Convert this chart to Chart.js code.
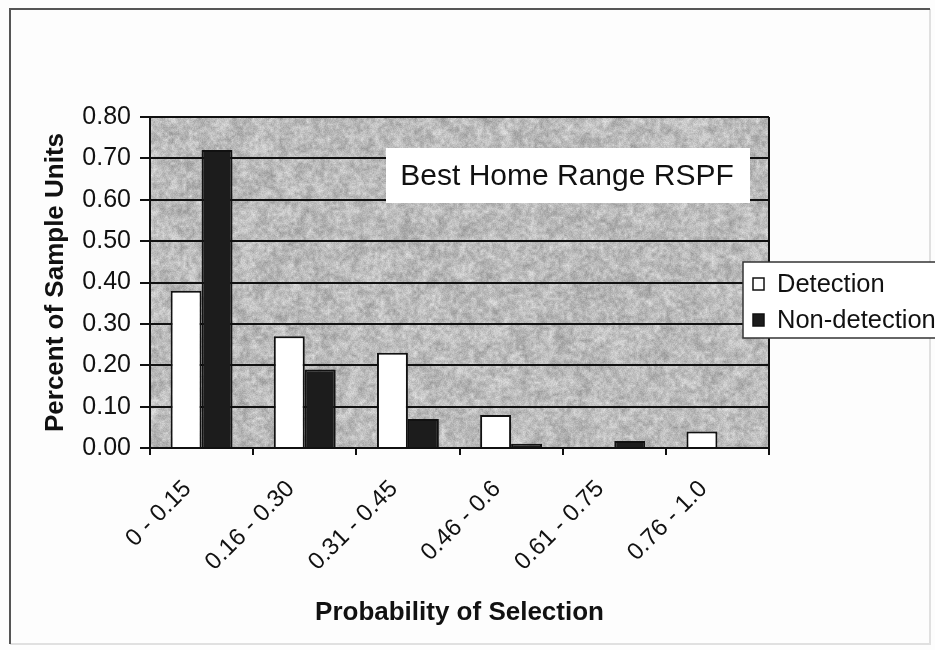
<!DOCTYPE html>
<html>
<head>
<meta charset="utf-8">
<title>Best Home Range RSPF</title>
<script src="https://cdn.jsdelivr.net/npm/chart.js@4.4.1/dist/chart.umd.min.js"></script>
<style>
  html, body { margin: 0; padding: 0; background: #ffffff; }
  #wrap { width: 935px; height: 650px; position: relative; }
</style>
</head>
<body>
<div id="wrap"><canvas id="c" width="935" height="650"></canvas></div>
<script>
// Probability-of-selection bins and the share of sample units in each
const categories = ['0 - 0.15', '0.16 - 0.30', '0.31 - 0.45', '0.46 - 0.6', '0.61 - 0.75', '0.76 - 1.0'];
const detection = [0.38, 0.27, 0.23, 0.08, 0, 0.04];
const nonDetection = [0.72, 0.19, 0.07, 0.01, 0.017, 0];
const seriesNames = ['Detection', 'Non-detection'];
const chartTitle = 'Best Home Range RSPF';
const xTitle = 'Probability of Selection';
const yTitle = 'Percent of Sample Units';
const yMin = 0, yMax = 0.8, yStep = 0.1;

const FONT = 'Arial, "Liberation Sans", Helvetica, sans-serif';
const INK = '#111111';

// Deterministic hash for the mottled plot-area fill
function hash(x, y) {
  const s = Math.sin(x * 127.1 + y * 311.7) * 43758.5453;
  return s - Math.floor(s);
}

// Grey layer of hashed values at a given cell size, smoothed when enlarged
function noiseLayer(w, h, cell, lo, span, seed) {
  const cw = Math.ceil(w / cell) + 1, ch = Math.ceil(h / cell) + 1;
  const small = document.createElement('canvas');
  small.width = cw; small.height = ch;
  const sg = small.getContext('2d');
  const img = sg.createImageData(cw, ch);
  for (let y = 0; y < ch; y++) {
    for (let x = 0; x < cw; x++) {
      const v = lo + hash(x + seed, y - seed) * span;
      const i = (y * cw + x) * 4;
      img.data[i] = img.data[i + 1] = img.data[i + 2] = v;
      img.data[i + 3] = 255;
    }
  }
  sg.putImageData(img, 0, 0);
  return { canvas: small, cw, ch };
}

let texture = null;
function buildTexture(w, h) {
  const c = document.createElement('canvas');
  c.width = w; c.height = h;
  const g = c.getContext('2d');
  g.imageSmoothingEnabled = true;
  const coarse = noiseLayer(w, h, 9, 150, 60, 3.1);
  g.drawImage(coarse.canvas, 0, 0, coarse.cw * 9, coarse.ch * 9);
  const mid = noiseLayer(w, h, 3, 145, 75, 7.7);
  g.globalAlpha = 0.55;
  g.drawImage(mid.canvas, 0, 0, mid.cw * 3, mid.ch * 3);
  g.globalAlpha = 1;
  const img = g.getImageData(0, 0, w, h);
  for (let y = 0; y < h; y++) {
    for (let x = 0; x < w; x++) {
      const i = (y * w + x) * 4;
      const d = (hash(x + 0.37, y + 0.71) - 0.5) * 22 + 6;
      const v = Math.max(0, Math.min(255, img.data[i] + d));
      img.data[i] = img.data[i + 1] = img.data[i + 2] = v;
    }
  }
  g.putImageData(img, 0, 0);
  return c;
}

const decor = {
  id: 'decor',
  beforeDraw(chart) {
    const { ctx, chartArea: a } = chart;
    ctx.save();
    ctx.fillStyle = '#fdfdfd';
    ctx.fillRect(0, 0, chart.width, chart.height);

    // outer frame
    ctx.lineWidth = 2;
    ctx.strokeStyle = '#e0e0e0';
    ctx.beginPath();
    ctx.moveTo(930, 9); ctx.lineTo(930, 644); ctx.lineTo(10, 644);
    ctx.stroke();
    ctx.strokeStyle = '#555555';
    ctx.beginPath();
    ctx.moveTo(10, 644); ctx.lineTo(10, 9); ctx.lineTo(930, 9);
    ctx.stroke();

    // plot-area fill
    const w = Math.round(a.right - a.left), h = Math.round(a.bottom - a.top);
    if (!texture) texture = buildTexture(w, h);
    ctx.drawImage(texture, a.left, a.top, w, h);
    ctx.restore();
  },
  afterDatasetsDraw(chart) {
    const { ctx, chartArea: a } = chart;
    ctx.save();
    // right edge of the plot area
    ctx.strokeStyle = INK;
    ctx.lineWidth = 2;
    ctx.beginPath();
    ctx.moveTo(a.right, a.top); ctx.lineTo(a.right, a.bottom);
    ctx.stroke();

    // chart title box inside the plot
    ctx.fillStyle = '#ffffff';
    ctx.fillRect(386, 148, 364, 55);
    ctx.fillStyle = INK;
    ctx.font = '30px ' + FONT;
    ctx.textAlign = 'center';
    ctx.textBaseline = 'middle';
    ctx.fillText(chartTitle, 567, 177);
    ctx.restore();
  },
  afterDraw(chart) {
    const { ctx } = chart;
    ctx.save();
    // legend box
    ctx.fillStyle = '#ffffff';
    ctx.fillRect(743, 262, 200, 76);
    ctx.strokeStyle = '#333333';
    ctx.lineWidth = 1.5;
    ctx.strokeRect(743, 262, 200, 76);

    const rows = [284, 320];
    chart.data.datasets.forEach((ds, i) => {
      const y = rows[i];
      ctx.fillStyle = ds.backgroundColor;
      ctx.fillRect(753, y - 6, 11, 12);
      ctx.strokeStyle = INK;
      ctx.lineWidth = 1.5;
      ctx.strokeRect(753, y - 6, 11, 12);
      ctx.fillStyle = INK;
      ctx.font = '25.5px ' + FONT;
      ctx.textAlign = 'left';
      ctx.textBaseline = 'middle';
      ctx.fillText(ds.label, 777, y + 1);
    });
    ctx.restore();
  }
};

new Chart(document.getElementById('c'), {
  type: 'bar',
  data: {
    labels: categories,
    datasets: [
      {
        label: seriesNames[0],
        data: detection,
        backgroundColor: '#ffffff',
        borderColor: INK,
        borderWidth: 2,
        borderSkipped: 'bottom'
      },
      {
        label: seriesNames[1],
        data: nonDetection,
        backgroundColor: '#1c1c1c',
        borderColor: INK,
        borderWidth: 2,
        borderSkipped: 'bottom'
      }
    ]
  },
  options: {
    responsive: false,
    animation: false,
    devicePixelRatio: 1,
    layout: { padding: { top: 117, right: 166, left: 0, bottom: 0 } },
    datasets: { bar: { categoryPercentage: 0.6, barPercentage: 1.0 } },
    plugins: {
      legend: { display: false },
      tooltip: { enabled: false },
      title: { display: false }
    },
    scales: {
      x: {
        grid: { display: true, drawOnChartArea: false, drawTicks: true, tickLength: 7, color: INK, lineWidth: 2, offset: true },
        border: { display: true, color: INK, width: 2 },
        ticks: {
          font: { family: FONT, size: 24 },
          color: INK,
          minRotation: 45,
          maxRotation: 45,
          autoSkip: false,
          padding: 20,
          labelOffset: -14
        },
        title: {
          display: true,
          text: xTitle,
          color: INK,
          font: { family: FONT, size: 26, weight: 'bold' },
          padding: { top: 0, bottom: 22 }
        },
        afterFit(scale) { scale.height = 202; }
      },
      y: {
        min: yMin,
        max: yMax,
        grid: { color: INK, lineWidth: 2, tickLength: 10 },
        border: { display: true, color: INK, width: 2 },
        ticks: {
          stepSize: yStep,
          font: { family: FONT, size: 25 },
          color: INK,
          padding: 9,
          callback: v => Number(v).toFixed(2)
        },
        title: {
          display: true,
          text: yTitle,
          color: INK,
          font: { family: FONT, size: 26, weight: 'bold' },
          padding: { top: 40, bottom: 0 }
        },
        afterFit(scale) { scale.width = 150; }
      }
    }
  },
  plugins: [decor]
});
</script>
</body>
</html>
